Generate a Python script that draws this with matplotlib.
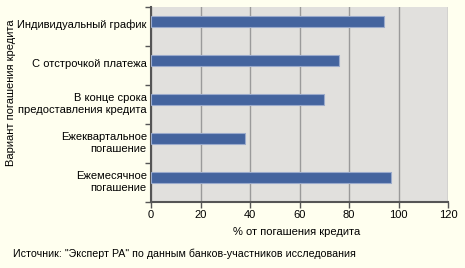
import matplotlib
matplotlib.use("Agg")
import matplotlib.pyplot as plt
import numpy as np

plt.rcParams['font.family'] = ['Liberation Sans', 'DejaVu Sans']

categories = ["Индивидуальный график", "С отстрочкой платежа",
              "В конце срока\nпредоставления кредита",
              "Ежеквартальное\nпогашение", "Ежемесячное\nпогашение"]
values = [94, 76, 70, 38, 97]
xticks = [0, 20, 40, 60, 80, 100, 120]

bg = "#FFFFEF"
fig = plt.figure(figsize=(4.65, 2.68), dpi=100, facecolor=bg)
ax = fig.add_axes([151/465, (268-202)/268, 297/465, 195/268])
ax.set_facecolor("#E1E0DD")

pos = np.arange(len(categories))
ax.barh(pos - 0.128, values, height=0.28, color="#44649E",
        edgecolor="#9AAACB", linewidth=0.8, zorder=3)

ax.set_xlim(0, 120)
ax.set_ylim(len(categories) - 0.5, -0.5)
ax.set_xticks(xticks)
ax.set_xticklabels([str(v) for v in xticks], fontsize=8)
ax.xaxis.grid(True, color="#9A9A9A", linewidth=1.0, zorder=1)
ax.set_axisbelow(True)

ax.set_yticks(pos - 0.07)
ax.set_yticklabels(categories, fontsize=8, linespacing=1.25)
ax.tick_params(axis="y", length=0, pad=3)
ax.set_yticks(np.arange(len(categories) + 1) - 0.5, minor=True)
ax.tick_params(axis="y", which="minor", length=4, width=1, color="#555555")
ax.tick_params(axis="x", length=4, width=1, color="#555555", pad=2)

for s in ["top", "right"]:
    ax.spines[s].set_visible(False)
ax.spines["left"].set_color("#555555")
ax.spines["left"].set_linewidth(1.5)
ax.spines["bottom"].set_color("#555555")
ax.spines["bottom"].set_linewidth(1.5)

fig.text(297/465, 1 - 232/268, "% от погашения кредита", fontsize=8,
         ha="center", va="center")
fig.text(11/465, 1 - 93/268, "Вариант погашения кредита", fontsize=8,
         ha="center", va="center", rotation=90)
fig.text(13/465, 1 - 254/268, 'Источник: "Эксперт РА" по данным банков-участников исследования',
         fontsize=7.65, ha="left", va="center")

fig.savefig("out.png", dpi=100, facecolor=bg)
